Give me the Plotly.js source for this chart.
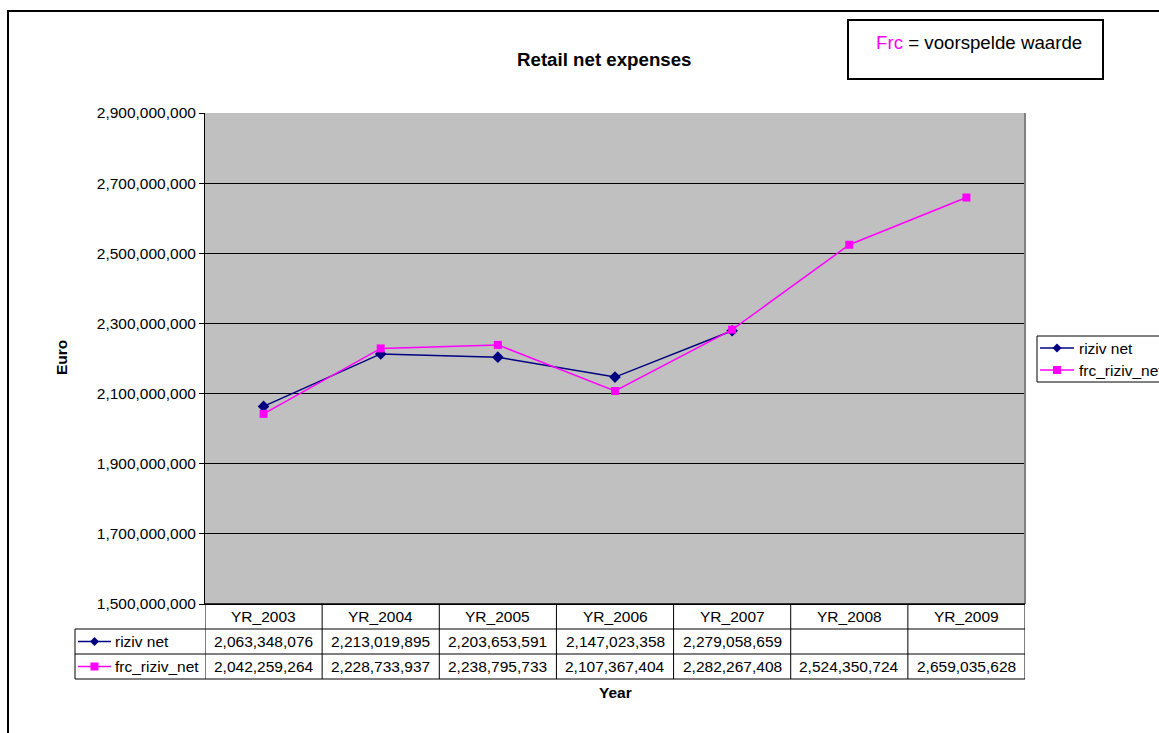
<!DOCTYPE html>
<html>
<head>
<meta charset="utf-8">
<script src="https://cdn.plot.ly/plotly-3.0.1.min.js"></script>
<style>html,body{margin:0;padding:0;background:#fff;}#chart{width:1159px;height:733px;}</style>
</head>
<body>
<div id="chart"></div>
<script>
// ---- data ----
const categories = ["YR_2003","YR_2004","YR_2005","YR_2006","YR_2007","YR_2008","YR_2009"];
const rizivNet = [2063348076, 2213019895, 2203653591, 2147023358, 2279058659, null, null];
const frcRizivNet = [2042259264, 2228733937, 2238795733, 2107367404, 2282267408, 2524350724, 2659035628];
const seriesNames = ["riziv net", "frc_riziv_net"];
const yTicks = [1500000000,1700000000,1900000000,2100000000,2300000000,2500000000,2700000000,2900000000];
const chartTitle = "Retail net expenses";
const yTitle = "Euro";
const xTitle = "Year";
const noteText = '<span style="color:#FF00FF">Frc</span> = voorspelde waarde';

// ---- layout helpers (pixel -> paper) ----
const W = 1159, H = 733;
const PL = 205, PR = 1025, PT = 113, PB = 604;
const px = x => (x - PL) / (PR - PL);
const py = y => (PB - y) / (PB - PT);
const FONT = '"Liberation Sans", Arial, sans-serif';
const FS = 15.5;
const fmt = new Intl.NumberFormat('en-US');
const NAVY = '#000080', MAG = '#FF00FF';

const traces = [
  {x: categories, y: rizivNet, name: seriesNames[0], type: 'scatter', mode: 'lines+markers',
   line: {color: NAVY, width: 1.5}, marker: {symbol: 'diamond', size: 9, color: NAVY}},
  {x: categories, y: frcRizivNet, name: seriesNames[1], type: 'scatter', mode: 'lines+markers',
   line: {color: MAG, width: 1.5}, marker: {symbol: 'square', size: 8, color: MAG}}
];

const shapes = [];
const annotations = [];
const line = (x0,y0,x1,y1,color,width,xref) => shapes.push({type:'line', xref: xref||'paper', yref:'paper',
  x0:x0, y0:y0, x1:x1, y1:y1, line:{color:color||'#000', width:width||1}});
const cellFont = {family: FONT, size: FS, color: '#000'};

// legend key drawing (line + marker) at pixel position
function key(x0, x1, cy, color, sym) {
  line(px(x0), py(cy), px(x1), py(cy), color, 1.5);
  const mx = (x0 + x1) / 2;
  if (sym === 'diamond') {
    shapes.push({type:'path', xref:'paper', yref:'paper', fillcolor:color, line:{color:color, width:0},
      path:`M ${px(mx)} ${py(cy-4.5)} L ${px(mx+4.5)} ${py(cy)} L ${px(mx)} ${py(cy+4.5)} L ${px(mx-4.5)} ${py(cy)} Z`});
  } else {
    shapes.push({type:'rect', xref:'paper', yref:'paper', fillcolor:color, line:{color:color, width:0},
      x0:px(mx-4), x1:px(mx+4), y0:py(cy-4), y1:py(cy+4)});
  }
}
const keys = [[NAVY,'diamond'],[MAG,'square']];

// outer chart border
shapes.push({type:'rect', xref:'paper', yref:'paper', x0:px(8), x1:px(1162), y0:py(11), y1:py(740),
  line:{color:'#000', width:2}, layer:'below'});
// plot right border
line(1, 0, 1, 1, '#808080', 2);

// data table
const rowY = [604, 629, 654, 679];
line(0, py(rowY[0]), 1, py(rowY[0]), '#000', 1.5);
for (let r = 1; r < rowY.length; r++) line(px(75), py(rowY[r]), 1, py(rowY[r]), '#000', 1);
line(px(75), py(rowY[1]), px(75), py(rowY[3]), '#000', 1);
for (let i = 0; i <= categories.length; i++) {
  shapes.push({type:'line', xref:'x', yref:'paper', x0:i-0.5, x1:i-0.5, y0:py(rowY[0]), y1:py(rowY[3]),
    line:{color:'#000', width:1}});
}
categories.forEach((c, i) => {
  annotations.push({xref:'x', yref:'paper', x:i, y:py((rowY[0]+rowY[1])/2), text:c, showarrow:false,
    font:cellFont, xanchor:'center', yanchor:'middle'});
  [rizivNet, frcRizivNet].forEach((arr, r) => {
    if (arr[i] !== null) annotations.push({xref:'x', yref:'paper', x:i, y:py((rowY[r+1]+rowY[r+2])/2),
      text:fmt.format(arr[i]), showarrow:false, font:cellFont, xanchor:'center', yanchor:'middle'});
  });
});
// table row labels with keys
keys.forEach((k, r) => {
  const cy = (rowY[r+1]+rowY[r+2])/2;
  key(78, 111, cy, k[0], k[1]);
  annotations.push({xref:'paper', yref:'paper', x:px(113), y:py(cy), text:seriesNames[r], showarrow:false,
    font:cellFont, xanchor:'left', yanchor:'middle'});
});

// side legend
shapes.push({type:'rect', xref:'paper', yref:'paper', x0:px(1037), x1:px(1175), y0:py(336), y1:py(382),
  line:{color:'#000', width:1}, fillcolor:'#fff'});
const legY = [348, 370];
keys.forEach((k, r) => {
  key(1040, 1074, legY[r], k[0], k[1]);
  annotations.push({xref:'paper', yref:'paper', x:px(1077), y:py(legY[r]), text:seriesNames[r], showarrow:false,
    font:cellFont, xanchor:'left', yanchor:'middle'});
});

// title & axis titles
annotations.push({xref:'paper', yref:'paper', x:px(604), y:py(59), text:'<b>'+chartTitle+'</b>', showarrow:false,
  font:{family:FONT, size:18.7, color:'#000'}, xanchor:'center', yanchor:'middle'});
annotations.push({xref:'paper', yref:'paper', x:px(61), y:py(358), text:'<b>'+yTitle+'</b>', showarrow:false,
  textangle:-90, font:{family:FONT, size:FS, color:'#000'}, xanchor:'center', yanchor:'middle'});
annotations.push({xref:'paper', yref:'paper', x:px(615), y:py(692), text:'<b>'+xTitle+'</b>', showarrow:false,
  font:{family:FONT, size:FS, color:'#000'}, xanchor:'center', yanchor:'middle'});

// note box
shapes.push({type:'rect', xref:'paper', yref:'paper', x0:px(848), x1:px(1103), y0:py(20), y1:py(79),
  line:{color:'#000', width:2}, fillcolor:'#fff'});
annotations.push({xref:'paper', yref:'paper', x:px(979), y:py(42), text:noteText, showarrow:false,
  font:{family:FONT, size:18.7, color:'#000'}, xanchor:'center', yanchor:'middle'});

const layout = {
  width: W, height: H,
  margin: {l: PL, r: W - PR, t: PT, b: H - PB, autoexpand: false},
  paper_bgcolor: '#fff', plot_bgcolor: '#C0C0C0',
  font: {family: FONT, size: FS, color: '#000'},
  showlegend: false,
  xaxis: {type: 'category', range: [-0.5, categories.length - 0.5], showticklabels: false, ticks: '',
    showgrid: false, zeroline: false, showline: true, linecolor: '#000', linewidth: 1, fixedrange: true},
  yaxis: {range: [yTicks[0], yTicks[yTicks.length-1]], tickvals: yTicks, ticktext: yTicks.map(v => fmt.format(v)),
    ticks: 'outside', ticklen: 5, tickcolor: '#000', tickwidth: 1, showgrid: true, gridcolor: '#000', gridwidth: 1,
    zeroline: false, showline: true, linecolor: '#000', linewidth: 1, tickfont: {family: FONT, size: FS, color: '#000'},
    fixedrange: true},
  shapes: shapes,
  annotations: annotations,
  hovermode: false
};

Plotly.newPlot('chart', traces, layout, {displayModeBar: false, staticPlot: true});
</script>
</body>
</html>
